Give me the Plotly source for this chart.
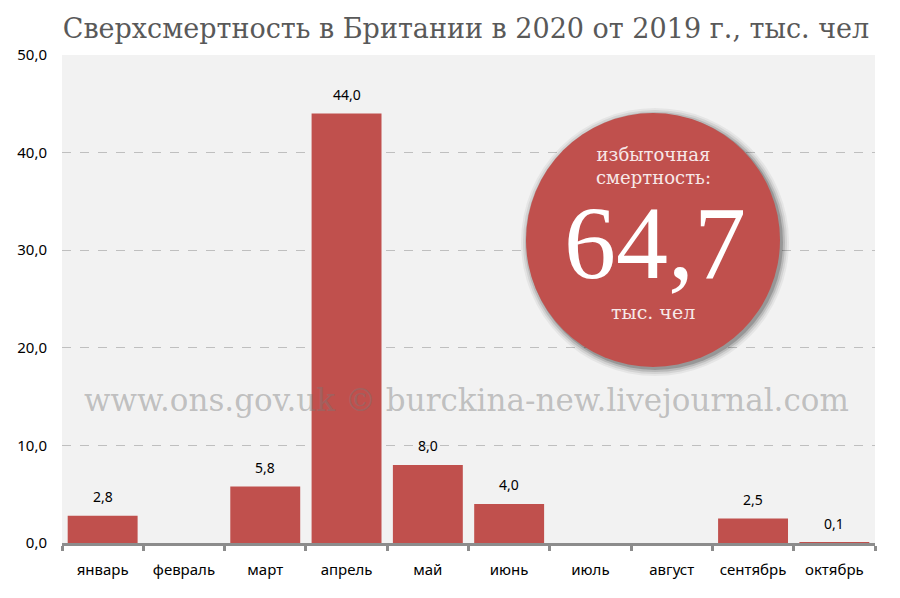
import plotly.graph_objects as go

months = ["январь", "февраль", "март", "апрель", "май", "июнь", "июль", "август", "сентябрь", "октябрь"]
values = [2.8, None, 5.8, 44.0, 8.0, 4.0, None, None, 2.5, 0.1]
tick_vals = [0, 10, 20, 30, 40, 50]
title_text = "Сверхсмертность в Британии в 2020 от 2019 г., тыс. чел"
total_text = "64,7"

W, H = 900, 598
L, R, T, B = 62, 25, 55, 55
pw, ph = W - L - R, H - T - B

def px(x):
    return (x - L) / pw

def py(y):
    return (H - B - y) / ph

sans = "Noto Sans, Open Sans, sans-serif"
serif = "DejaVu Serif, Liberation Serif, serif"

fig = go.Figure()
fig.add_trace(go.Bar(
    x=months, y=values,
    marker=dict(color="#c0504d", line=dict(width=0)),
    hoverinfo="skip",
))

ann = []
for m, v in zip(months, values):
    if v is None:
        continue
    ann.append(dict(x=m, y=v, xref="x", yref="y", text=f"{v:.1f}".replace(".", ","),
                    showarrow=False, xanchor="center", yanchor="middle", yshift=19,
                    font=dict(family=sans, size=14, color="#000000")))

shapes = []
cx, cy, r = 653, 240, 127
# shadow
for k, a in [(7, 0.05), (5, 0.08), (3, 0.12), (1, 0.18)]:
    shapes.append(dict(type="circle", xref="paper", yref="paper", layer="above",
                       x0=px(cx - r - k + 2), x1=px(cx + r + k + 2),
                       y0=py(cy + r + k + 2), y1=py(cy - r - k + 2),
                       fillcolor=f"rgba(0,0,0,{a})", line=dict(width=0)))
shapes.append(dict(type="circle", xref="paper", yref="paper", layer="above",
                   x0=px(cx - r), x1=px(cx + r), y0=py(cy + r), y1=py(cy - r),
                   fillcolor="#c0504d", line=dict(width=0)))

ann += [
    dict(text="избыточная<br>смертность:", x=px(cx), y=py(166), xref="paper", yref="paper",
         xanchor="center", yanchor="middle",
         showarrow=False, font=dict(family=serif, size=18, color="#f7e8e8"), align="center"),
    dict(text=total_text, x=px(cx + 2), y=py(242), xref="paper", yref="paper",
         xanchor="center", yanchor="middle",
         showarrow=False, font=dict(family="Liberation Serif, serif", size=104, color="#ffffff")),
    dict(text="тыс. чел", x=px(cx), y=py(312), xref="paper", yref="paper",
         xanchor="center", yanchor="middle",
         showarrow=False, font=dict(family=serif, size=19, color="#f7e8e8")),
    dict(text="www.ons.gov.uk © burckina-new.livejournal.com", x=px(466), y=py(400),
         xref="paper", yref="paper", showarrow=False, xanchor="center", yanchor="middle",
         font=dict(family=serif, size=31, color="rgba(120,120,120,0.42)")),
]

fig.update_layout(
    width=W, height=H,
    margin=dict(l=L, r=R, t=T, b=B, pad=0),
    paper_bgcolor="#ffffff", plot_bgcolor="#f2f2f2",
    separators=", ",
    bargap=0.14,
    showlegend=False,
    title=dict(text=title_text, x=px(466), xref="paper", xanchor="center", y=1 - 29 / H, yanchor="middle",
               font=dict(family=serif, size=27, color="#595959")),
    xaxis=dict(type="category", showline=True, linecolor="#8c8c8c", linewidth=3,
               ticks="outside", tickson="boundaries", ticklen=5, tickwidth=3, tickcolor="#8c8c8c",
               showgrid=False, ticklabelstandoff=11,
               tickfont=dict(family=sans, size=15, color="#000000")),
    yaxis=dict(range=[0, 50], tickvals=tick_vals, tickformat=".1f", showgrid=True,
               gridcolor="#bfbfbf", griddash="dash", gridwidth=1, zeroline=False, showline=False,
               ticks="", ticklabelstandoff=14,
               tickfont=dict(family=sans, size=15, color="#000000")),
    shapes=shapes, annotations=ann,
)
fig.write_html("out.html")
